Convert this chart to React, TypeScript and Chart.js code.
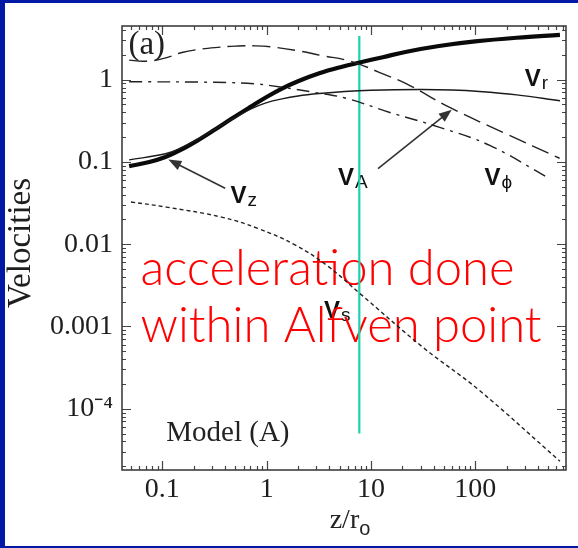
import React, { useEffect, useRef } from "react";
import { Chart, registerables } from "chart.js";
Chart.register(...registerables);

// ---- data ----
const vzX = [0.048, 0.075, 0.107, 0.15, 0.22, 0.32, 0.46, 0.7, 0.97, 1.4, 2.0, 3.2, 5.3, 7.8, 13, 22, 45, 100, 250, 650];
const vzY = [0.089, 0.1, 0.115, 0.14, 0.184, 0.248, 0.335, 0.468, 0.603, 0.78, 0.96, 1.2, 1.44, 1.62, 1.88, 2.19, 2.57, 2.92, 3.24, 3.51];

const vrX = [0.048, 0.107, 0.15, 0.22, 0.32, 0.46, 0.7, 0.97, 1.4, 2.0, 3.2, 5.6, 10, 29, 60, 110, 250, 650];
const vrY = [0.106, 0.126, 0.148, 0.19, 0.25, 0.33, 0.44, 0.52, 0.585, 0.635, 0.68, 0.72, 0.745, 0.76, 0.75, 0.72, 0.655, 0.556];

const vaX = [0.048, 0.065, 0.08, 0.11, 0.154, 0.22, 0.32, 0.5, 0.78, 1.2, 2.0, 3.5, 5.64, 7.74, 12, 22, 57, 198, 645];
const vaY = [1.73, 1.68, 1.7, 1.86, 2.14, 2.33, 2.46, 2.56, 2.58, 2.48, 2.25, 1.95, 1.75, 1.55, 1.23, 0.89, 0.46, 0.22, 0.111];

const vphiX = [0.048, 0.32, 0.78, 1.4, 2.9, 5.64, 15.2, 45.6, 138, 520];
const vphiY = [0.946, 0.93, 0.89, 0.81, 0.7, 0.6, 0.4, 0.264, 0.159, 0.0625];

const vsX = [0.05, 0.109, 0.368, 0.83, 1.87, 3.8, 7.74, 32, 108, 650];
const vsY = [0.0326, 0.0283, 0.0214, 0.0155, 0.0098, 0.0055, 0.00255, 0.00055, 0.00017, 0.000023];

const alfvenX = [7.74, 7.74];
const alfvenY = [3.4, 0.00005];

const xTickValues = [0.1, 1, 10, 100];
const xTickLabels = ["0.1", "1", "10", "100"];
const yTickValues = [1e-4, 1e-3, 1e-2, 0.1, 1];
const yTickLabels = ["10\u207B\u2074", "0.001", "0.01", "0.1", "1"];

const curveLabels = [
  { main: "V", sub: "z", x: 0.45, y: 0.032 },
  { main: "V", sub: "r", x: 298, y: 0.846 },
  { main: "V", sub: "A", x: 4.83, y: 0.052 },
  { main: "V", sub: "\u03D5", x: 123, y: 0.052 },
];
const vsLabel = { main: "V", sub: "s", x: 3.55, y: 0.00127 };
const arrows = [
  { fx: 0.4, fy: 0.048, tx: 0.114, ty: 0.107 },
  { fx: 11.7, fy: 0.083, tx: 59.6, ty: 0.433 },
];
const noteLines = ["acceleration done", "within Alfven point"];
const noteAnchor = [{ x: 0.0616, y: 0.00318 }, { x: 0.0616, y: 0.00065 }];

const pts = (xs: number[], ys: number[]) => xs.map((x, i) => ({ x, y: ys[i] }));

const SERIF = "'Liberation Serif', 'Times New Roman', serif";
const SANS = "'Liberation Sans', Arial, sans-serif";

function drawLabel(ctx: CanvasRenderingContext2D, x: number, y: number, main: string, sub: string) {
  ctx.font = `bold 24px ${SANS}`;
  ctx.fillStyle = "#111";
  ctx.textBaseline = "alphabetic";
  ctx.textAlign = "left";
  ctx.fillText(main, x, y);
  const w = ctx.measureText(main).width;
  ctx.font = `19px ${SANS}`;
  ctx.fillText(sub, x + w + 1, y + 3);
}

const deco = {
  id: "deco",
  beforeDraw(chart: any) {
    const ctx = chart.ctx as CanvasRenderingContext2D;
    ctx.save();
    ctx.fillStyle = "#0219a6";
    ctx.fillRect(0, 0, chart.width, chart.height);
    ctx.fillStyle = "#ffffff";
    ctx.fillRect(5, 3, chart.width - 5, chart.height - 5);
    ctx.restore();
  },
  beforeDatasetsDraw(chart: any) {
    const ctx = chart.ctx as CanvasRenderingContext2D;
    const { x, y } = chart.scales;
    const { top, bottom } = chart.chartArea;
    const px = (v: number) => x.getPixelForValue(v);
    const py = (v: number) => y.getPixelForValue(v);
    ctx.save();
    // y title
    ctx.save();
    ctx.translate(21, (top + bottom) / 2 - 5);
    ctx.rotate(-Math.PI / 2);
    ctx.font = `33px ${SERIF}`;
    ctx.fillStyle = "#1e1e1e";
    ctx.textAlign = "center";
    ctx.textBaseline = "middle";
    ctx.fillText("Velocities", 0, 0);
    ctx.restore();
    // curve labels
    for (const l of curveLabels) drawLabel(ctx, px(l.x), py(l.y), l.main, l.sub);
    drawLabel(ctx, px(vsLabel.x), py(vsLabel.y), vsLabel.main, vsLabel.sub);
    // arrows
    ctx.strokeStyle = "#333";
    ctx.fillStyle = "#333";
    ctx.lineWidth = 1.6;
    for (const a of arrows) {
      const x1 = px(a.fx), y1 = py(a.fy), x2 = px(a.tx), y2 = py(a.ty);
      const ang = Math.atan2(y2 - y1, x2 - x1);
      const hl = 13, hw = 5;
      ctx.beginPath();
      ctx.moveTo(x1, y1);
      ctx.lineTo(x2 - Math.cos(ang) * hl * 0.8, y2 - Math.sin(ang) * hl * 0.8);
      ctx.stroke();
      ctx.beginPath();
      ctx.moveTo(x2, y2);
      ctx.lineTo(x2 - Math.cos(ang) * hl - Math.sin(ang) * hw, y2 - Math.sin(ang) * hl + Math.cos(ang) * hw);
      ctx.lineTo(x2 - Math.cos(ang) * hl + Math.sin(ang) * hw, y2 - Math.sin(ang) * hl - Math.cos(ang) * hw);
      ctx.closePath();
      ctx.fill();
    }
    // panel text
    ctx.fillStyle = "#222";
    ctx.textAlign = "left";
    ctx.textBaseline = "alphabetic";
    ctx.font = `33px ${SERIF}`;
    ctx.fillText("(a)", px(0.0473), py(2.07));
    ctx.font = `29px ${SERIF}`;
    ctx.fillText("Model (A)", px(0.109), py(0.000041));
    // red note
    ctx.fillStyle = "#ff0000";
    ctx.font = `300 49px Lato, 'Noto Sans', sans-serif`;
    noteLines.forEach((t, i) => ctx.fillText(t, px(noteAnchor[i].x), py(noteAnchor[i].y)));
    ctx.restore();
  },
  afterDatasetsDraw(chart: any) {
    const ctx = chart.ctx as CanvasRenderingContext2D;
    const { left, right, top, bottom } = chart.chartArea;
    const { x, y } = chart.scales;
    ctx.save();
    ctx.strokeStyle = "#444";
    ctx.lineWidth = 1.2;
    ctx.beginPath();
    for (let d = Math.floor(Math.log10(x.min)); d <= Math.ceil(Math.log10(x.max)); d++) {
      for (let m = 1; m <= 9; m++) {
        const v = m * Math.pow(10, d);
        if (v < x.min || v > x.max) continue;
        const p = Math.round(x.getPixelForValue(v)) + 0.5;
        const len = m === 1 ? 9 : 4;
        ctx.moveTo(p, bottom); ctx.lineTo(p, bottom - len);
        ctx.moveTo(p, top); ctx.lineTo(p, top + len);
      }
    }
    for (let d = Math.floor(Math.log10(y.min)); d <= Math.ceil(Math.log10(y.max)); d++) {
      for (let m = 1; m <= 9; m++) {
        const v = m * Math.pow(10, d);
        if (v < y.min || v > y.max) continue;
        const p = Math.round(y.getPixelForValue(v)) + 0.5;
        const len = m === 1 ? 9 : 4;
        ctx.moveTo(left, p); ctx.lineTo(left + len, p);
        ctx.moveTo(right, p); ctx.lineTo(right - len, p);
      }
    }
    ctx.stroke();
    ctx.lineWidth = 1.5;
    ctx.strokeStyle = "#333";
    ctx.strokeRect(left, top, right - left, bottom - top);
    // x title with subscript
    ctx.fillStyle = "#222";
    ctx.textBaseline = "alphabetic";
    ctx.textAlign = "left";
    ctx.font = `28px ${SERIF}`;
    const main = "z/r";
    const w1 = ctx.measureText(main).width;
    ctx.font = `20px ${SANS}`;
    const w2 = ctx.measureText("o").width;
    const cx = (left + right) / 2 + 6;
    const sx = cx - (w1 + w2) / 2;
    ctx.font = `28px ${SERIF}`;
    ctx.fillText(main, sx, bottom + 58);
    ctx.font = `20px ${SANS}`;
    ctx.fillText("o", sx + w1, bottom + 65);
    ctx.restore();
  },
};

export default function App() {
  const ref = useRef<HTMLCanvasElement>(null);
  useEffect(() => {
    if (!ref.current) return;
    const line = (data: any, width: number, dash: number[], color = "#1a1a1a") => ({
      data,
      showLine: true,
      borderColor: color,
      borderWidth: width,
      borderDash: dash,
      pointRadius: 0,
      tension: 0.4,
      fill: false,
    });
    const chart = new Chart(ref.current, {
      type: "scatter",
      data: {
        datasets: [
          line(pts(vsX, vsY), 1.4, [4, 3], "#222"),
          line(pts(vphiX, vphiY), 1.4, [13, 6, 3, 6], "#222"),
          line(pts(vaX, vaY), 1.4, [18, 7], "#222"),
          line(pts(vrX, vrY), 1.4, [], "#1a1a1a"),
          line(pts(vzX, vzY), 4.2, [], "#0a0a0a"),
          { ...line(pts(alfvenX, alfvenY), 2.2, [], "#1ad3b0"), tension: 0 },
        ] as any,
      },
      options: {
        animation: false,
        responsive: false,
        layout: { padding: { left: 0, right: 12, top: 26, bottom: 0 } },
        plugins: { legend: { display: false }, tooltip: { enabled: false } },
        scales: {
          x: {
            type: "logarithmic",
            min: 0.041,
            max: 743,
            afterBuildTicks: (s: any) => {
              s.ticks = xTickValues.map((v) => ({ value: v }));
            },
            afterFit: (s: any) => {
              s.height = 78;
            },
            ticks: {
              callback: (_v: any, i: number) => xTickLabels[i],
              font: { family: SERIF, size: 28 },
              color: "#1e1e1e",
              padding: 3,
              maxRotation: 0,
              autoSkip: false,
            },
            grid: { display: false, drawTicks: false },
            border: { display: false },
          },
          y: {
            type: "logarithmic",
            min: 1.8e-5,
            max: 4.5,
            afterBuildTicks: (s: any) => {
              s.ticks = yTickValues.map((v) => ({ value: v }));
            },
            afterFit: (s: any) => {
              s.width = 122;
            },
            ticks: {
              callback: (_v: any, i: number) => yTickLabels[i],
              font: { family: SERIF, size: 28 },
              color: "#1e1e1e",
              padding: 9,
              autoSkip: false,
            },
            grid: { display: false, drawTicks: false },
            border: { display: false },
          },
        },
      } as any,
      plugins: [deco],
    });
    return () => chart.destroy();
  }, []);
  return (
    <div style={{ position: "fixed", left: 0, top: 0, width: 578, height: 548 }}>
      <canvas ref={ref} width={578} height={548} style={{ display: "block" }} />
    </div>
  );
}
